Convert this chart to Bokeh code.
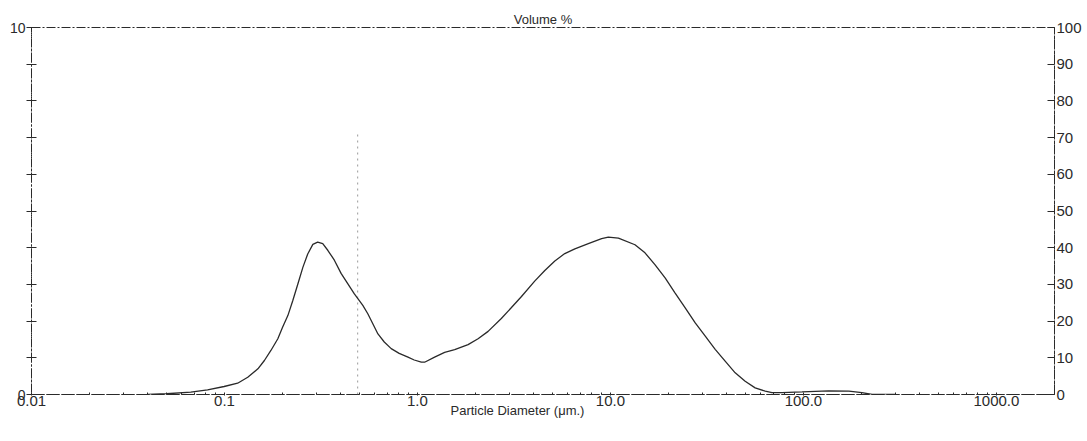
from bokeh.plotting import figure
from bokeh.models import LinearAxis, Range1d, FixedTicker, Title
from bokeh.embed import file_html
from bokeh.resources import INLINE

# ---- data ----
size_um = [0.04, 0.05, 0.0669, 0.0817, 0.0996, 0.117, 0.132, 0.149, 0.161,
           0.174, 0.189, 0.200, 0.213, 0.226, 0.240, 0.255, 0.270, 0.287,
           0.304, 0.323, 0.343, 0.371, 0.402, 0.471, 0.521, 0.553, 0.587,
           0.624, 0.673, 0.731, 0.804, 0.893, 0.962, 1.047, 1.089, 1.227,
           1.383, 1.559, 1.829, 2.061, 2.323, 2.72, 3.07, 3.46, 4.05, 4.57,
           5.15, 5.80, 6.54, 7.68, 9.0, 9.75, 11.0, 13.4, 15.1, 17.0, 19.2,
           21.6, 24.4, 27.5, 31.0, 34.9, 39.3, 44.3, 49.9, 56.2, 63.4, 68.7,
           77.4, 98.4, 135, 172, 201, 227, 300]
volume_pct = [0.0, 0.02, 0.063, 0.128, 0.218, 0.308, 0.471, 0.70, 0.926,
              1.20, 1.52, 1.83, 2.15, 2.56, 3.01, 3.47, 3.83, 4.09,
              4.15, 4.11, 3.93, 3.66, 3.30, 2.74, 2.43, 2.20, 1.93,
              1.65, 1.43, 1.25, 1.12, 1.02, 0.94, 0.88, 0.88, 1.02,
              1.15, 1.22, 1.36, 1.52, 1.72, 2.07, 2.37, 2.67, 3.09, 3.38,
              3.64, 3.84, 3.97, 4.11, 4.25, 4.29, 4.26, 4.08, 3.86, 3.54, 3.18,
              2.77, 2.36, 1.95, 1.59, 1.23, 0.91, 0.59, 0.36, 0.18, 0.09, 0.05,
              0.05, 0.07, 0.10, 0.09, 0.05, 0.0, 0.0]

x_ticks = [0.01, 0.1, 1, 10, 100, 1000]
x_tick_labels = ["0.01", "0.1", "1.0", "10.0", "100.0", "1000.0"]
left_ticks = list(range(0, 11))
left_tick_labels = {0: "0", 10: "10"}
right_ticks = list(range(0, 101, 10))
marker_size_um = 0.49
marker_top = 7.1

FONT = "Liberation Sans"
INK = "#2a2a2a"

p = figure(width=1087, height=436, x_axis_type="log",
           x_range=(0.01, 2000), y_range=(0, 10),
           output_backend="svg", toolbar_location=None,
           min_border_left=31, min_border_right=33,
           min_border_top=27, min_border_bottom=42,
           y_axis_location=None)
p.title = Title(text="Volume %", align="center", text_font=FONT,
                text_font_size="13px", text_font_style="normal",
                text_color=INK, standoff=1)
p.grid.visible = False
p.background_fill_color = "white"
p.border_fill_color = "white"
p.outline_line_color = INK
p.outline_line_dash = "9 2 2 2"
p.outline_line_width = 1

# bottom log axis
xa = p.xaxis[0]
xa.ticker = FixedTicker(ticks=x_ticks,
                        minor_ticks=[m * d for d in [0.01, 0.1, 1, 10, 100, 1000]
                                     for m in range(2, 10)])
xa.major_label_overrides = {t: l for t, l in zip(x_ticks, x_tick_labels)}
xa.axis_line_color = INK
xa.axis_line_dash = "9 2 2 2"
xa.major_tick_in = 2
xa.major_tick_out = 1
xa.minor_tick_in = 2
xa.minor_tick_out = 0
xa.major_tick_line_color = INK
xa.minor_tick_line_color = INK
xa.major_label_standoff = 0
xa.major_label_text_font = FONT
xa.major_label_text_font_size = "15px"
xa.major_label_text_color = INK

# left axis 0..10
la = LinearAxis(ticker=FixedTicker(ticks=left_ticks, minor_ticks=[]))
la.major_label_overrides = {t: left_tick_labels.get(t, "") for t in left_ticks}
la.axis_line_color = INK
la.axis_line_dash = "2 2"
la.major_tick_in = 5
la.major_tick_out = 5
la.major_tick_line_color = INK
la.minor_tick_line_color = None
la.major_label_standoff = 1
la.major_label_text_font = FONT
la.major_label_text_font_size = "14px"
la.major_label_text_color = INK
la.major_label_text_baseline = "bottom"
p.add_layout(la, "left")

# right axis 0..100
p.extra_y_ranges = {"cum": Range1d(0, 100)}
ra = LinearAxis(y_range_name="cum",
                ticker=FixedTicker(ticks=right_ticks, minor_ticks=[]))
ra.axis_line_color = INK
ra.axis_line_dash = "3 2"
ra.major_tick_in = 7
ra.major_tick_out = 0
ra.major_tick_line_color = INK
ra.minor_tick_line_color = None
ra.major_label_standoff = 2
ra.major_label_text_font = FONT
ra.major_label_text_font_size = "15px"
ra.major_label_text_color = INK
p.add_layout(ra, "right")

# faint dotted vertical marker
p.segment(x0=[marker_size_um], y0=[0], x1=[marker_size_um], y1=[marker_top],
          line_color="#9a9a9a", line_dash="2 4", line_width=1)

# distribution curve
p.line(size_um, volume_pct, line_color=INK, line_width=1.3)

# x axis title
p.add_layout(Title(text="Particle Diameter (μm.)", align="left",
                   offset=419, standoff=-15, text_font=FONT,
                   text_font_size="13px", text_font_style="normal",
                   text_color=INK), "below")

open("out.html", "w").write(file_html(p, INLINE))
